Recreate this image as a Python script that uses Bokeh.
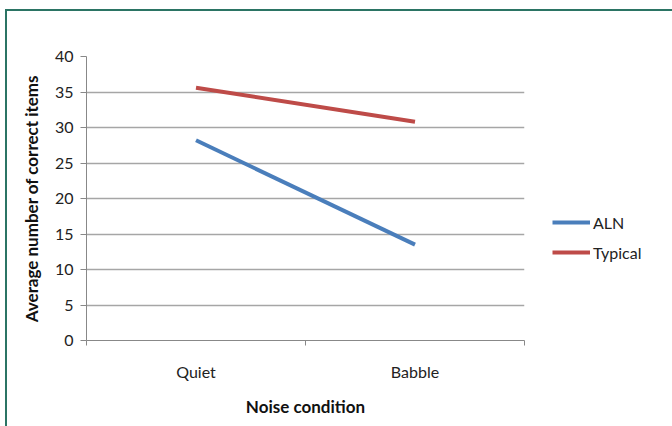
from bokeh.plotting import figure
from bokeh.models import FixedTicker, Legend, LegendItem, Range1d
from bokeh.embed import file_html
from bokeh.resources import INLINE

categories = ["Quiet", "Babble"]
aln = [28.2, 13.5]
typical = [35.6, 30.8]
y_ticks = [0, 5, 10, 15, 20, 25, 30, 35, 40]

FONT = "Lato"
OX, OY = 7, 11  # canvas offset in window

p = figure(frame_width=438, frame_height=284, output_backend="svg", toolbar_location=None,
           x_range=Range1d(0, 2), y_range=Range1d(0, 40))
p.styles = {"border-left": "2px solid #2b7464", "border-top": "2px solid #2b7464",
            "margin-left": "5px", "margin-top": "9px"}
p.min_border_left = 86 - OX
p.min_border_right = 672 - 524
p.min_border_top = 56 - OY
p.min_border_bottom = 426 - 340
p.outline_line_color = None
p.background_fill_color = "white"
p.border_fill_color = "white"

xs = [i + 0.5 for i in range(len(categories))]
r_aln = p.line(xs, aln, line_color="#4a7ebb", line_width=4)
r_typ = p.line(xs, typical, line_color="#be4b48", line_width=4)

# x axis
p.xaxis.ticker = FixedTicker(ticks=xs, minor_ticks=[0, 1, 2])
p.xaxis.major_label_overrides = {x: c for x, c in zip(xs, categories)}
p.xaxis.major_tick_out = 0
p.xaxis.major_tick_in = 0
p.xaxis.minor_tick_out = 5
p.xaxis.minor_tick_in = 0
p.xaxis.minor_tick_line_color = "#888888"
p.xaxis.axis_line_color = "#888888"
p.xaxis.major_label_standoff = 16
p.xaxis.axis_label = "Noise condition"
p.xaxis.axis_label_standoff = 12
p.xaxis.axis_label_text_font_style = "bold"

# y axis
p.yaxis.ticker = FixedTicker(ticks=y_ticks)
p.yaxis.minor_tick_line_color = None
p.yaxis.major_tick_out = 6
p.yaxis.major_tick_in = 0
p.yaxis.major_tick_line_color = "#888888"
p.yaxis.axis_line_color = "#888888"
p.yaxis.major_label_standoff = 7
p.yaxis.axis_label = "Average number of correct items"
p.yaxis.axis_label_standoff = 10
p.yaxis.axis_label_text_font_style = "bold"

for ax in (p.xaxis[0], p.yaxis[0]):
    ax.major_label_text_font = FONT
    ax.major_label_text_font_size = "16px"
    ax.major_label_text_color = "#222222"
    ax.axis_label_text_font = FONT
    ax.axis_label_text_font_size = "17px"
    ax.axis_label_text_color = "#111111"

p.xgrid.grid_line_color = None
p.ygrid.ticker = FixedTicker(ticks=y_ticks)
p.ygrid.grid_line_color = "#a6a6a6"
p.ygrid.grid_line_width = 1.5

legend = Legend(items=[LegendItem(label="ALN", renderers=[r_aln]),
                       LegendItem(label="Typical", renderers=[r_typ])],
                location=(28, 78))
legend.border_line_color = None
legend.background_fill_alpha = 0
legend.label_text_font = FONT
legend.label_text_font_size = "16px"
legend.label_text_color = "#222222"
legend.glyph_width = 38
legend.label_standoff = 3
legend.spacing = 10
legend.padding = 0
legend.margin = 0
p.add_layout(legend, "right")

open("out.html", "w").write(file_html(p, INLINE))
